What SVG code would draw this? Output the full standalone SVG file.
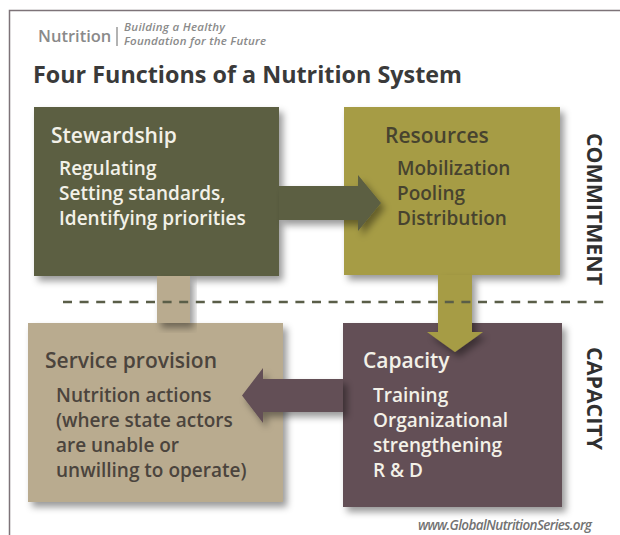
<svg xmlns="http://www.w3.org/2000/svg" width="620" height="535" viewBox="0 0 620 535">
  <style>
    .hdr { font-family: "Open Sans", "Liberation Sans", sans-serif; }
    .ttl { font-family: "Open Sans", "Liberation Sans", sans-serif; font-weight: 700; font-size: 23px; fill: #3a3a3a; }
    .head { font-family: "Open Sans", "Liberation Sans", sans-serif; font-weight: 600; font-size: 21px; }
    .body { font-family: "Open Sans", "Liberation Sans", sans-serif; font-weight: 600; font-size: 19px; }
    .light { fill: #f3f1e8; }
    .dark { fill: #47432f; }
    .darkb { fill: #4b443d; }
    .side { font-family: "Open Sans", "Liberation Sans", sans-serif; font-weight: 700; font-size: 21px; fill: #303030; }
    .shadow { filter: url(#drop); }
  </style>
  <defs>
    <filter id="drop" x="-10%" y="-10%" width="130%" height="130%">
      <feDropShadow dx="4" dy="5" stdDeviation="3.5" flood-color="#000" flood-opacity="0.4"/>
    </filter>
  </defs>

  <rect width="620" height="535" fill="#ffffff"/>

  <!-- page frame -->
  <path d="M9.5 535 V10.5 H620" fill="none" stroke="#7d7378" stroke-width="1.5"/>

  <!-- masthead -->
  <g id="masthead" class="hdr">
    <text x="38" y="42" font-size="16.5" font-weight="600" fill="#8a8a8a">Nutrition</text>
    <line x1="117" y1="27" x2="117" y2="46" stroke="#8a8a8a" stroke-width="1.3"/>
    <text x="124" y="31" font-size="11.5" font-style="italic" font-weight="600" fill="#8a8a8a" textLength="101">Building a Healthy</text>
    <text x="124" y="45" font-size="11.5" font-style="italic" font-weight="600" fill="#8a8a8a" textLength="142">Foundation for the Future</text>
  </g>

  <text class="ttl" x="33" y="83" textLength="429" lengthAdjust="spacingAndGlyphs">Four Functions of a Nutrition System</text>

  <!-- function boxes -->
  <g id="stewardship">
    <rect class="shadow" x="34" y="107" width="245" height="169" fill="#5b5e42"/>
    <text class="head light" x="51" y="143">Stewardship</text>
    <text class="body light" x="59" y="175">Regulating</text>
    <text class="body light" x="59" y="200">Setting standards,</text>
    <text class="body light" x="59" y="225">Identifying priorities</text>
  </g>

  <g id="resources">
    <rect class="shadow" x="344" y="107" width="216" height="168" fill="#a69c44"/>
    <text class="head dark" x="385" y="143">Resources</text>
    <text class="body dark" x="397" y="175">Mobilization</text>
    <text class="body dark" x="397" y="200">Pooling</text>
    <text class="body dark" x="397" y="225">Distribution</text>
  </g>

  <g id="service-provision">
    <rect class="shadow" x="28" y="323" width="255" height="179" fill="#b9ab8f"/>
    <text class="head darkb" x="45" y="368">Service provision</text>
    <text class="body darkb" x="56" y="402">Nutrition actions</text>
    <text class="body darkb" x="56" y="427">(where state actors</text>
    <text class="body darkb" x="56" y="452">are unable or</text>
    <text class="body darkb" x="56" y="477">unwilling to operate)</text>
  </g>

  <g id="capacity">
    <rect class="shadow" x="343" y="323" width="219" height="184" fill="#635056"/>
    <text class="head light" x="363" y="368">Capacity</text>
    <text class="body light" x="373" y="402">Training</text>
    <text class="body light" x="373" y="427">Organizational</text>
    <text class="body light" x="373" y="452">strengthening</text>
    <text class="body light" x="373" y="477">R &amp; D</text>
  </g>

  <!-- connectors between the functions -->
  <g id="connectors">
    <rect class="shadow" x="157" y="276" width="33" height="47" fill="#b9ab8f"/>
    <polygon class="shadow" points="279,186 358,186 358,175 381,203 358,231 358,220 279,220" fill="#5b5e42"/>
    <polygon class="shadow" points="438,275 472,275 472,332 483,332 455,352 427,332 438,332" fill="#a69c44"/>
    <polygon class="shadow" points="343,379 263,379 263,368 242,395.5 263,423 263,412 343,412" fill="#635056"/>
  </g>

  <!-- commitment / capacity divide -->
  <line x1="63" y1="302" x2="604" y2="302" stroke="#5a5e48" stroke-width="2.6" stroke-dasharray="9 7.6"/>

  <g id="side-labels">
    <text class="side" transform="translate(587,209) rotate(90)" text-anchor="middle" textLength="152" lengthAdjust="spacingAndGlyphs">COMMITMENT</text>
    <text class="side" transform="translate(587,398.5) rotate(90)" text-anchor="middle" textLength="103" lengthAdjust="spacingAndGlyphs">CAPACITY</text>
  </g>

  <text x="418" y="530" font-family="'Open Sans', 'Liberation Sans', sans-serif" font-size="13.5" font-style="italic" font-weight="600" fill="#727272" textLength="174">www.GlobalNutritionSeries.org</text>
</svg>
